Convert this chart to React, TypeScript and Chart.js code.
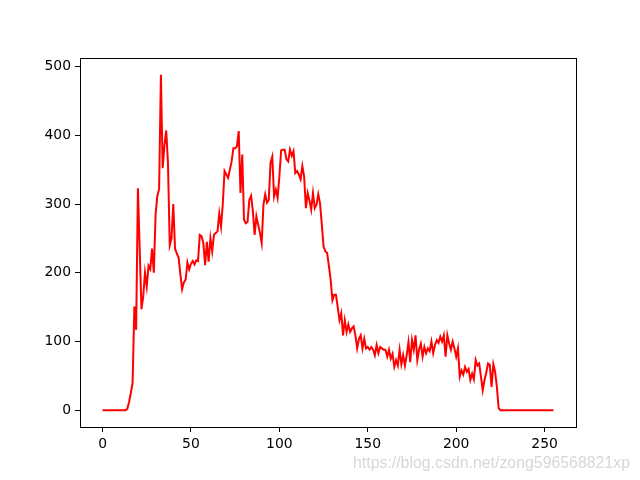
import React, { useEffect, useRef } from "react";
import { Chart, registerables } from "chart.js";

Chart.register(...registerables);

// histogram values for grey levels 0..255
const histValues: number[] = [
  0, 0, 0, 0, 0, 0, 0, 0, 0, 0, 0, 0, 0, 0, 2, 12, 25, 40, 151, 117,
  323, 235, 147, 165, 200, 180, 210, 205, 235, 200, 285, 312, 322, 488, 352, 385, 407, 360, 240, 250,
  300, 235, 228, 222, 198, 176, 186, 190, 215, 205, 213, 217, 212, 218, 217, 255, 253, 243, 211, 245,
  216, 250, 231, 255, 258, 260, 286, 267, 300, 348, 343, 338, 350, 362, 381, 381, 384, 406, 316, 372,
  277, 272, 274, 306, 312, 290, 255, 282, 270, 258, 243, 299, 314, 302, 306, 360, 369, 311, 321, 309,
  340, 378, 379, 379, 365, 362, 379, 370, 377, 345, 348, 343, 336, 355, 340, 294, 316, 305, 292, 316,
  294, 299, 314, 301, 270, 238, 231, 229, 210, 190, 160, 168, 168, 150, 131, 141, 109, 131, 114, 125,
  114, 119, 122, 109, 90, 104, 109, 90, 104, 90, 92, 88, 92, 88, 80, 95, 83, 92, 90, 88,
  88, 78, 88, 75, 82, 63, 73, 65, 88, 67, 80, 65, 80, 99, 70, 102, 88, 109, 73, 88,
  97, 78, 92, 83, 90, 86, 100, 83, 95, 102, 98, 107, 100, 109, 78, 109, 97, 88, 100, 90,
  78, 90, 49, 58, 52, 63, 56, 60, 44, 53, 45, 73, 65, 68, 49, 29, 44, 55, 68, 66,
  34, 67, 56, 34, 3, 0, 0, 0, 0, 0, 0, 0, 0, 0, 0, 0, 0, 0, 0, 0,
  0, 0, 0, 0, 0, 0, 0, 0, 0, 0, 0, 0, 0, 0, 0, 0,
];
const levels: number[] = histValues.map((_, i) => i);
const xTicks: number[] = [0, 50, 100, 150, 200, 250];
const yTicks: number[] = [0, 100, 200, 300, 400, 500];
const watermark = "https://blog.csdn.net/zong596568821xp";

export default function App() {
  const ref = useRef<HTMLCanvasElement | null>(null);
  useEffect(() => {
    if (!ref.current) return;
    const frame = {
      id: "frame",
      afterDatasetsDraw(chart: any) {
        const { ctx, chartArea: a } = chart;
        ctx.save();
        ctx.strokeStyle = "#000";
        ctx.lineWidth = 1;
        ctx.strokeRect(Math.round(a.left) + 0.5, Math.round(a.top) + 0.5, Math.round(a.right - a.left), Math.round(a.bottom - a.top));
        ctx.restore();
      },
      afterDraw(chart: any) {
        const ctx = chart.ctx;
        ctx.save();
        ctx.font = "16px 'Liberation Sans', Arial, sans-serif";
        ctx.textBaseline = "middle";
        ctx.textAlign = "left";
        ctx.fillStyle = "rgba(215,215,215,1)";
        ctx.fillText(watermark, 353, 464, 277);
        ctx.restore();
      },
    };
    const chart = new Chart(ref.current, {
      type: "line",
      data: {
        datasets: [
          {
            data: levels.map((x, i) => ({ x, y: histValues[i] })),
            borderColor: "#ff0000",
            borderWidth: 2,
            pointRadius: 0,
            tension: 0,
            fill: false,
          },
        ],
      },
      options: {
        animation: false,
        responsive: false,
        maintainAspectRatio: false,
        layout: { padding: { top: 58, right: 64, left: 0, bottom: 0 } },
        plugins: { legend: { display: false }, tooltip: { enabled: false } },
        scales: {
          x: {
            type: "linear",
            min: -12.75,
            max: 267.75,
            afterBuildTicks: (s: any) => {
              s.ticks = xTicks.map((v) => ({ value: v }));
            },
            afterFit: (s: any) => {
              s.height = 53;
            },
            grid: { display: true, drawOnChartArea: false, drawTicks: true, tickLength: 5, tickColor: "#000", color: "#000" },
            border: { display: false },
            ticks: { color: "#000", padding: 4, maxRotation: 0, font: { family: "'DejaVu Sans'", size: 13.9 } },
          },
          y: {
            type: "linear",
            min: -24.4,
            max: 512.4,
            afterBuildTicks: (s: any) => {
              s.ticks = yTicks.map((v) => ({ value: v }));
            },
            afterFit: (s: any) => {
              s.width = 80;
            },
            grid: { display: true, drawOnChartArea: false, drawTicks: true, tickLength: 5, tickColor: "#000", color: "#000" },
            border: { display: false },
            ticks: { color: "#000", padding: 4, font: { family: "'DejaVu Sans'", size: 13.9 } },
          },
        },
      },
      plugins: [frame],
    });
    return () => chart.destroy();
  }, []);
  return (
    <div style={{ position: "fixed", left: 0, top: 0, width: 640, height: 480, background: "#fff" }}>
      <canvas ref={ref} width={640} height={480} style={{ width: 640, height: 480 }} />
    </div>
  );
}
